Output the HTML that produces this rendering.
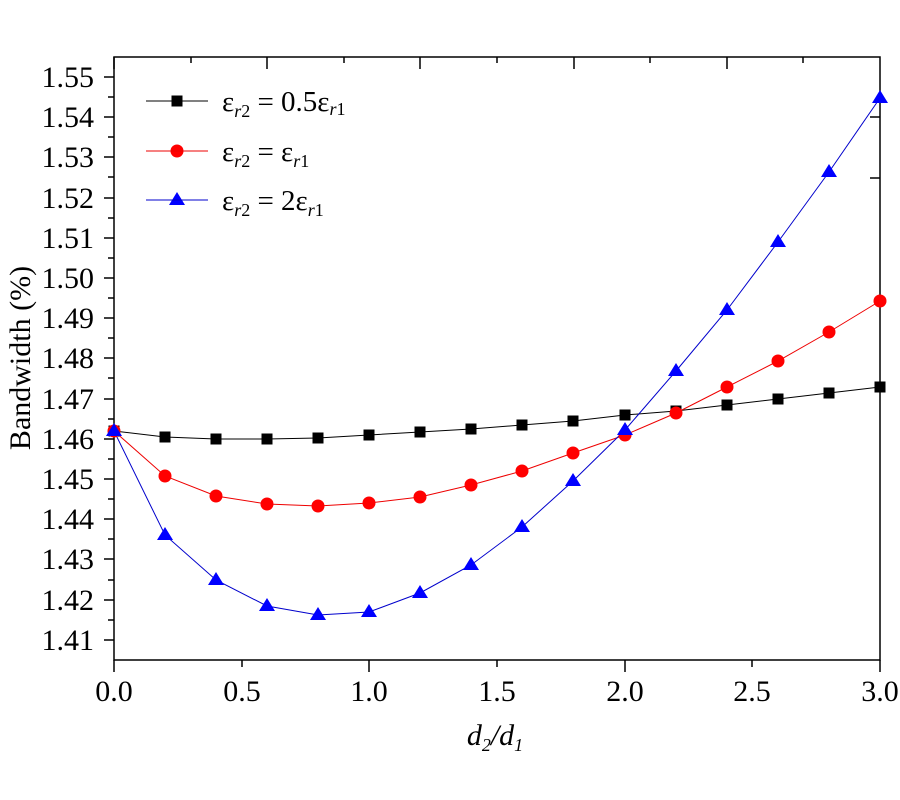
<!DOCTYPE html><html><head><style>body{margin:0;background:#fff}svg{display:block}text{font-family:"Liberation Serif",serif;fill:#000}</style></head><body>
<svg width="900" height="800" viewBox="0 0 900 800">
<rect x="114" y="57" width="766" height="603" fill="none" stroke="#000" stroke-width="1.5"/>
<g stroke="#000" stroke-width="1.5">
<line x1="104" y1="77" x2="114" y2="77"/><line x1="104" y1="117" x2="114" y2="117"/><line x1="104" y1="157" x2="114" y2="157"/><line x1="104" y1="198" x2="114" y2="198"/><line x1="104" y1="238" x2="114" y2="238"/><line x1="104" y1="278" x2="114" y2="278"/><line x1="104" y1="318" x2="114" y2="318"/><line x1="104" y1="358" x2="114" y2="358"/><line x1="104" y1="399" x2="114" y2="399"/><line x1="104" y1="439" x2="114" y2="439"/><line x1="104" y1="479" x2="114" y2="479"/><line x1="104" y1="519" x2="114" y2="519"/><line x1="104" y1="559" x2="114" y2="559"/><line x1="104" y1="600" x2="114" y2="600"/><line x1="104" y1="640" x2="114" y2="640"/>
<line x1="108" y1="97" x2="114" y2="97"/><line x1="108" y1="137" x2="114" y2="137"/><line x1="108" y1="177" x2="114" y2="177"/><line x1="108" y1="218" x2="114" y2="218"/><line x1="108" y1="258" x2="114" y2="258"/><line x1="108" y1="298" x2="114" y2="298"/><line x1="108" y1="338" x2="114" y2="338"/><line x1="108" y1="378" x2="114" y2="378"/><line x1="108" y1="419" x2="114" y2="419"/><line x1="108" y1="459" x2="114" y2="459"/><line x1="108" y1="499" x2="114" y2="499"/><line x1="108" y1="539" x2="114" y2="539"/><line x1="108" y1="580" x2="114" y2="580"/><line x1="108" y1="620" x2="114" y2="620"/>
<line x1="870" y1="117" x2="880" y2="117"/><line x1="870" y1="178" x2="880" y2="178"/>
</g>
<g stroke="#000" stroke-width="1.5">
<line x1="114" y1="660" x2="114" y2="672"/><line x1="242" y1="660" x2="242" y2="667"/><line x1="369" y1="660" x2="369" y2="672"/><line x1="497" y1="660" x2="497" y2="667"/><line x1="625" y1="660" x2="625" y2="672"/><line x1="752" y1="660" x2="752" y2="667"/><line x1="880" y1="660" x2="880" y2="672"/>
<line x1="114" y1="57" x2="114" y2="69"/><line x1="191" y1="57" x2="191" y2="63"/><line x1="267" y1="57" x2="267" y2="69"/><line x1="344" y1="57" x2="344" y2="63"/><line x1="420" y1="57" x2="420" y2="69"/><line x1="497" y1="57" x2="497" y2="63"/><line x1="574" y1="57" x2="574" y2="69"/><line x1="650" y1="57" x2="650" y2="63"/><line x1="727" y1="57" x2="727" y2="69"/><line x1="803" y1="57" x2="803" y2="63"/>
</g>
<g font-size="30" text-anchor="end">
<text x="94" y="87">1.55</text><text x="94" y="127">1.54</text><text x="94" y="167">1.53</text><text x="94" y="208">1.52</text><text x="94" y="248">1.51</text><text x="94" y="288">1.50</text><text x="94" y="328">1.49</text><text x="94" y="368">1.48</text><text x="94" y="409">1.47</text><text x="94" y="449">1.46</text><text x="94" y="489">1.45</text><text x="94" y="529">1.44</text><text x="94" y="569">1.43</text><text x="94" y="610">1.42</text><text x="94" y="650">1.41</text>
</g>
<g font-size="30" text-anchor="middle">
<text x="114" y="701">0.0</text><text x="242" y="701">0.5</text><text x="369" y="701">1.0</text><text x="497" y="701">1.5</text><text x="625" y="701">2.0</text><text x="752" y="701">2.5</text><text x="880" y="701">3.0</text>
</g>
<text x="495" y="745" font-size="30" text-anchor="middle" font-style="italic">d<tspan font-size="18" dy="6">2</tspan><tspan dy="-6">/d</tspan><tspan font-size="18" dy="6">1</tspan></text>
<text transform="translate(30,358) rotate(-90)" font-size="30" text-anchor="middle">Bandwidth (%)</text>
<polyline fill="none" stroke="#000" stroke-width="1" points="114,431 165,437 216,439 267,439 318,438 369,435 420,432 471,429 522,425 573,421 625,415 676,411 727,405 778,399 829,393 880,387"/>
<polyline fill="none" stroke="#e00" stroke-width="1" points="114,431 165,476 216,496 267,504 318,506 369,503 420,497 471,485 522,471 573,453 625,435 676,413 727,387 778,361 829,332 880,301"/>
<polyline fill="none" stroke="#00c" stroke-width="1" points="114,431 165,535 216,580 267,606 318,615 369,612 420,593 471,565 522,527 573,481 625,430 676,371 727,310 778,242 829,172 880,98"/>
<g fill="#000">
<rect x="108.5" y="425.5" width="11" height="11"/><rect x="159.5" y="431.5" width="11" height="11"/><rect x="210.5" y="433.5" width="11" height="11"/><rect x="261.5" y="433.5" width="11" height="11"/><rect x="312.5" y="432.5" width="11" height="11"/><rect x="363.5" y="429.5" width="11" height="11"/><rect x="414.5" y="426.5" width="11" height="11"/><rect x="465.5" y="423.5" width="11" height="11"/><rect x="516.5" y="419.5" width="11" height="11"/><rect x="567.5" y="415.5" width="11" height="11"/><rect x="619.5" y="409.5" width="11" height="11"/><rect x="670.5" y="405.5" width="11" height="11"/><rect x="721.5" y="399.5" width="11" height="11"/><rect x="772.5" y="393.5" width="11" height="11"/><rect x="823.5" y="387.5" width="11" height="11"/><rect x="874.5" y="381.5" width="11" height="11"/>
<rect x="171.5" y="95.5" width="11" height="11"/>
</g>
<g fill="#f00">
<circle cx="114" cy="431" r="6.5"/><circle cx="165" cy="476" r="6.5"/><circle cx="216" cy="496" r="6.5"/><circle cx="267" cy="504" r="6.5"/><circle cx="318" cy="506" r="6.5"/><circle cx="369" cy="503" r="6.5"/><circle cx="420" cy="497" r="6.5"/><circle cx="471" cy="485" r="6.5"/><circle cx="522" cy="471" r="6.5"/><circle cx="573" cy="453" r="6.5"/><circle cx="625" cy="435" r="6.5"/><circle cx="676" cy="413" r="6.5"/><circle cx="727" cy="387" r="6.5"/><circle cx="778" cy="361" r="6.5"/><circle cx="829" cy="332" r="6.5"/><circle cx="880" cy="301" r="6.5"/>
<circle cx="177" cy="151" r="6.5"/>
</g>
<g fill="#00f">
<path d="M114,423l8,13h-16z M165,527l8,13h-16z M216,572l8,13h-16z M267,598l8,13h-16z M318,607l8,13h-16z M369,604l8,13h-16z M420,585l8,13h-16z M471,557l8,13h-16z M522,519l8,13h-16z M573,473l8,13h-16z M625,422l8,13h-16z M676,363l8,13h-16z M727,302l8,13h-16z M778,234l8,13h-16z M829,164l8,13h-16z M880,90l8,13h-16z M177,192l8,13h-16z"/>
</g>
<line x1="146" y1="101" x2="208" y2="101" stroke="#000"/>
<line x1="146" y1="151" x2="208" y2="151" stroke="#e00"/>
<line x1="146" y1="200" x2="208" y2="200" stroke="#00c"/>
<g font-size="29">
<text x="222" y="111">ε<tspan font-size="18" dy="6" font-style="italic">r</tspan><tspan font-size="18">2</tspan><tspan dy="-6"> = 0.5ε</tspan><tspan font-size="18" dy="4" font-style="italic">r</tspan><tspan font-size="18">1</tspan></text>
<text x="222" y="161">ε<tspan font-size="18" dy="6" font-style="italic">r</tspan><tspan font-size="18">2</tspan><tspan dy="-6"> = ε</tspan><tspan font-size="18" dy="6" font-style="italic">r</tspan><tspan font-size="18">1</tspan></text>
<text x="222" y="210">ε<tspan font-size="18" dy="6" font-style="italic">r</tspan><tspan font-size="18">2</tspan><tspan dy="-6"> = 2ε</tspan><tspan font-size="18" dy="6" font-style="italic">r</tspan><tspan font-size="18">1</tspan></text>
</g>
</svg>
</body></html>
